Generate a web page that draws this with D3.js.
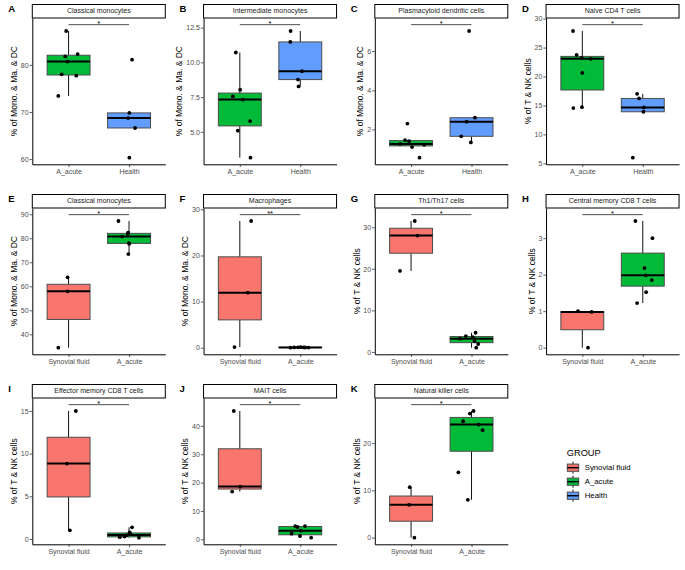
<!DOCTYPE html>
<html>
<head>
<meta charset="utf-8">
<script src="https://cdn.jsdelivr.net/npm/d3@7"></script>
<style>
  body { margin: 0; background: #fff; }
  text { font-family: "Liberation Sans", Arial, Helvetica, sans-serif; }
</style>
</head>
<body>
<script>
// ---------- DATA ----------
const panelTags = ["A","B","C","D","E","F","G","H","I","J","K"];
const panelTitles = ["Classical monocytes","Intermediate monocytes","Plasmacytoid dendritic cells","Naive CD4 T cells",
  "Classical monocytes","Macrophages","Th1/Th17 cells","Central memory CD8 T cells",
  "Effector memory CD8 T cells","MAIT cells","Natural killer cells"];
const groupsAH = ["A_acute","Health"];
const groupsSA = ["Synovial fluid","A_acute"];
const panelGroups = [groupsAH, groupsAH, groupsAH, groupsAH, groupsSA, groupsSA, groupsSA, groupsSA, groupsSA, groupsSA, groupsSA];
const yTitles = ["% of Mono. & Ma. & DC","% of Mono. & Ma. & DC","% of Mono. & Ma. & DC","% of T & NK cells",
  "% of Mono. & Ma. & DC","% of Mono. & Ma. & DC","% of T & NK cells","% of T & NK cells",
  "% of T & NK cells","% of T & NK cells","% of T & NK cells"];
const sigLabels = ["*","*","*","*","*","**","*","*","*","*","*"];
const yTicks = [[60,70,80],[5,7.5,10,12.5],[2,4,6],[5,10,15,20,25,30],[40,50,60,70,80,90],[0,10,20,30],
  [0,10,20,30],[0,1,2,3],[0,5,10,15],[0,10,20,30,40],[0,10,20]];
const yTickDecimals = [0,1,0,0,0,0,0,0,0,0,0];

// values per group (first group, second group)
const valA = [[87.2,81.8,82.3,80.7,78.0,77.7,73.4],[81.1,69.8,68.7,66.6,60.3]];
const valB = [[10.71,8.03,7.55,7.32,5.77,5.08,3.14],[12.26,11.47,9.36,8.76,8.27]];
const valC = [[2.30,1.46,1.26,1.40,1.22,1.10,0.56],[7.03,2.60,2.40,1.65,1.34]];
const valD = [[27.87,23.74,23.22,23.05,20.63,14.54,14.71],[17.01,16.21,14.66,13.91,5.98]];
const valE = [[63.75,57.92,34.44],[87.2,82.3,81.8,80.7,78.0,77.7,73.4]];
const valF = [[27.48,11.94,0.14],[0.02,0.10,0.13,0.08,0.03,0.06,0.05]];
const valG = [[31.5,28.0,19.49],[4.61,3.82,3.58,3.18,2.55,1.91,1.03]];
const valH = [[1.0,0.98,0.0],[3.47,3.0,2.18,1.98,1.85,1.52,1.22]];
const valI = [[15.0,8.84,1.01],[1.36,0.78,0.62,0.45,0.28,0.2,0.15]];
const valJ = [[45.26,18.6,16.84],[4.68,4.33,4.68,3.04,1.99,1.17,0.58]];
const valK = [[10.67,6.95,0.0],[26.8,26.25,24.63,23.93,22.74,13.82,8.0]];

// horizontal jitter of the points (in category units)
const jitA = [[-0.04,-0.055,0.15,-0.016,-0.115,0.127,-0.17],[0.05,0.005,-0.016,0.10,0.005]];
const jitB = [[-0.066,0.005,-0.116,0.05,0.17,-0.033,0.176],[-0.16,-0.165,0.028,-0.038,-0.028]];
const jitC = [[-0.06,-0.1,-0.18,-0.033,0.217,0.017,0.14],[-0.04,0.056,-0.083,-0.17,-0.011]];
const jitD = [[-0.154,-0.094,-0.011,0.138,0,-0.149,-0.006],[-0.094,-0.061,0.017,0.011,-0.165]];
const jitE = [[-0.016,-0.016,-0.17],[-0.175,-0.016,-0.022,-0.115,-0.005,0.005,-0.011]];
const jitF = [[0.187,0.132,-0.088],[-0.16,-0.038,0.005,0.05,0.137,-0.1,0.08]];
const jitG = [[0.061,0.105,-0.183],[0.067,-0.094,0.022,-0.19,0.05,0.11,0.078]];
const jitH = [[-0.072,0.155,0.094],[-0.122,0.16,0.028,0.05,0.15,0.056,-0.094]];
const jitI = [[0.12,-0.027,0.022],[0.05,0.011,0.016,-0.038,-0.076,-0.153,0.164]];
const jitJ = [[-0.1,0.005,-0.127],[-0.083,-0.044,0.078,0.011,-0.143,-0.005,0.18]];
const jitK = [[-0.022,-0.033,0.055],[0.033,-0.028,-0.138,0.117,0.183,-0.217,-0.061]];

const legendGroups = ["Synovial fluid","A_acute","Health"];
const groupColors = ["#F8766D","#00BA38","#619CFF"];

const allVals = [valA,valB,valC,valD,valE,valF,valG,valH,valI,valJ,valK];
const allJit = [jitA,jitB,jitC,jitD,jitE,jitF,jitG,jitH,jitI,jitJ,jitK];

// ---------- DRAW ----------
const W = 685, H = 570;
const color = d3.scaleOrdinal().domain(legendGroups).range(groupColors);
const svg = d3.select("body").append("svg").attr("width", W).attr("height", H);
const colW = W / 4, rowH = 190;

function boxStats(v) {
  const s = v.slice().sort(d3.ascending);
  const q1 = d3.quantile(s, 0.25), med = d3.quantile(s, 0.5), q3 = d3.quantile(s, 0.75);
  const iqr = q3 - q1;
  const lo = d3.min(s.filter(d => d >= q1 - 1.5 * iqr));
  const hi = d3.max(s.filter(d => d <= q3 + 1.5 * iqr));
  return {q1, med, q3, lo: Math.min(lo, q1), hi: Math.max(hi, q3)};
}

panelTags.forEach((tag, i) => {
  const row = Math.floor(i / 4), col = i % 4;
  const left = col * colW, top = row * rowH;
  const x0 = left + 32.3, x1 = left + 165.3, y0 = top + 18, y1 = top + 164.3;
  const vals = allVals[i], jit = allJit[i], groups = panelGroups[i];
  const flat = vals.flat();
  const lo = d3.min(flat), hi = d3.max(flat);
  const barY = hi + 0.05 * (hi - lo);
  const span = barY - lo;
  const y = d3.scaleLinear().domain([lo - 0.05 * span, barY + 0.05 * span]).range([y1, y0]);
  const x = d3.scaleLinear().domain([0.4, 2.6]).range([x0, x1]);
  const g = svg.append("g");

  // boxes
  vals.forEach((v, k) => {
    const st = boxStats(v);
    const cx = x(k + 1);
    const c = color(groups[k]);
    g.append("line").attr("x1", cx).attr("x2", cx).attr("y1", y(st.q3)).attr("y2", y(st.hi))
      .attr("stroke", "#111").attr("stroke-width", 1);
    g.append("line").attr("x1", cx).attr("x2", cx).attr("y1", y(st.q1)).attr("y2", y(st.lo))
      .attr("stroke", "#111").attr("stroke-width", 1);
    g.append("rect").attr("x", x(k + 1 - 0.355)).attr("width", x(k + 1 + 0.355) - x(k + 1 - 0.355))
      .attr("y", y(st.q3)).attr("height", Math.max(0.01, y(st.q1) - y(st.q3)))
      .attr("fill", c).attr("stroke", "#4d4d4d").attr("stroke-width", 1);
    g.append("line").attr("x1", x(k + 1 - 0.355)).attr("x2", x(k + 1 + 0.355))
      .attr("y1", y(st.med)).attr("y2", y(st.med)).attr("stroke", "#000").attr("stroke-width", 2);
  });

  // points
  vals.forEach((v, k) => {
    g.selectAll(null).data(v.map((d, j) => ({d, j: jit[k][j]}))).enter().append("circle")
      .attr("cx", p => x(k + 1 + p.j)).attr("cy", p => y(p.d)).attr("r", 1.9).attr("fill", "#000");
  });

  // axes
  const fmt = d3.format("." + yTickDecimals[i] + "f");
  const ya = g.append("g").attr("transform", `translate(${x0},0)`)
    .call(d3.axisLeft(y).tickValues(yTicks[i]).tickSize(2.7).tickPadding(1).tickSizeOuter(0).tickFormat(fmt));
  const xa = g.append("g").attr("transform", `translate(0,${y1})`)
    .call(d3.axisBottom(x).tickValues([1, 2]).tickSize(2.7).tickPadding(2.2).tickSizeOuter(0)
      .tickFormat(d => groups[d - 1]));
  [ya, xa].forEach(a => {
    a.select(".domain").attr("stroke", "#000").attr("stroke-width", 1);
    a.selectAll(".tick line").attr("stroke", "#333").attr("stroke-width", 0.8);
    a.selectAll(".tick text").attr("fill", "#4d4d4d").style("font-size", "7px")
      .style("font-family", '"Liberation Sans", Arial, sans-serif');
  });

  // y title
  const maxW = d3.max(ya.selectAll(".tick text").nodes(), n => n.getComputedTextLength());
  const labLeft = x0 - 3.7 - maxW;
  g.append("text").attr("transform", `translate(${labLeft - 3.8},${(y0 + y1) / 2}) rotate(-90)`)
    .attr("text-anchor", "middle").style("font-size", "8.5px").attr("fill", "#000").text(yTitles[i]);

  // strip
  g.append("rect").attr("x", x0).attr("y", top + 4.5).attr("width", x1 - x0).attr("height", 13.5)
    .attr("fill", "#fff").attr("stroke", "#000").attr("stroke-width", 1);
  g.append("text").attr("x", (x0 + x1) / 2).attr("y", top + 13.3).attr("text-anchor", "middle")
    .style("font-size", "7px").attr("fill", "#1a1a1a").text(panelTitles[i]);

  // significance bar
  g.append("line").attr("x1", x(1)).attr("x2", x(2)).attr("y1", y(barY)).attr("y2", y(barY))
    .attr("stroke", "#222").attr("stroke-width", 0.8);
  g.append("text").attr("x", x(1.5)).attr("y", y(barY) + 1.2).attr("text-anchor", "middle")
    .style("font-size", "7.5px").attr("fill", "#000").text(sigLabels[i]);

  // panel tag
  g.append("text").attr("x", left + 8.3).attr("y", top + 11.5).style("font-size", "9.5px")
    .style("font-weight", "bold").attr("fill", "#000").text(tag);
});

// legend
const lg = svg.append("g");
lg.append("text").attr("x", 566.7).attr("y", 455.6).style("font-size", "9.3px").attr("fill", "#000").text("GROUP");
legendGroups.forEach((name, k) => {
  const cy = 467.7 + k * 14;
  const kx0 = 567.3, kx1 = 578.7, kc = (kx0 + kx1) / 2;
  lg.append("line").attr("x1", kc).attr("x2", kc).attr("y1", cy - 6).attr("y2", cy + 6)
    .attr("stroke", "#111").attr("stroke-width", 1);
  lg.append("rect").attr("x", kx0).attr("y", cy - 3.6).attr("width", kx1 - kx0).attr("height", 7.2)
    .attr("fill", color(name)).attr("stroke", "#4d4d4d").attr("stroke-width", 1);
  lg.append("line").attr("x1", kx0).attr("x2", kx1).attr("y1", cy).attr("y2", cy)
    .attr("stroke", "#000").attr("stroke-width", 1.5);
  lg.append("text").attr("x", 584.7).attr("y", cy + 2.7).style("font-size", "7.8px").attr("fill", "#000").text(name);
});
</script>
</body>
</html>
